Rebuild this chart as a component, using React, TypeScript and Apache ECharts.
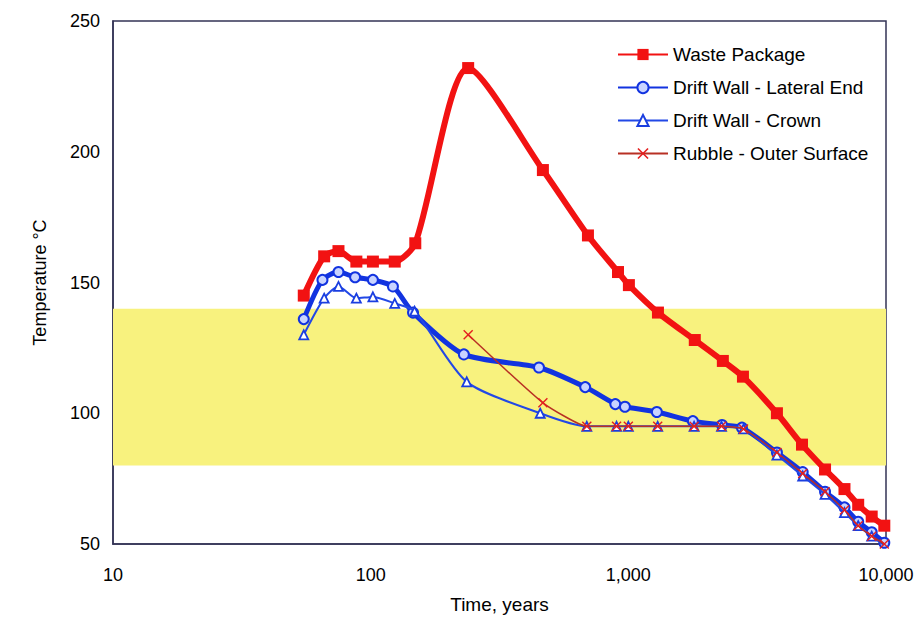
import React, { useEffect, useRef } from "react";
import * as echarts from "echarts";

// Tick / axis values
const xTicks = [10, 100, 1000, 10000];
const yTicks = [50, 100, 150, 200, 250];
const bandLow = 80;
const bandHigh = 140;

// Waste Package
const wasteTimes = [55, 66, 75, 88, 102, 124, 149, 239, 466, 697, 912, 1005, 1303, 1811, 2327, 2785, 3773, 4720, 5800, 6900, 7800, 8800, 9850];
const wasteTemps = [145, 160, 162, 158, 158, 158, 165, 232, 193, 168, 154, 149, 138.5, 128, 120, 114, 100, 88, 78.5, 71, 65, 60.5, 57];

// Drift Wall - Lateral End
const lateralTimes = [55, 65, 75, 87, 102, 122, 146, 230, 450, 680, 890, 970, 1290, 1780, 2310, 2760, 3773, 4750, 5800, 6900, 7800, 8800, 9850];
const lateralTemps = [136, 151, 154, 152, 151, 148.5, 138.5, 122.5, 117.5, 110, 103.5, 102.5, 100.5, 97, 95.5, 94.5, 85, 77.5, 70, 64, 58.5, 54.5, 50.5];

// Drift Wall - Crown
const crownTimes = [55, 66, 75, 88, 102, 124, 148, 236, 455, 690, 900, 1000, 1300, 1800, 2300, 2800, 3773, 4750, 5800, 6900, 7800, 8800, 9850];
const crownTemps = [130, 144, 148.5, 144, 144.5, 142, 139, 112, 100, 95, 95, 95, 95, 95, 95, 94, 84, 76, 69, 62, 57, 53, 49.5];

// Rubble - Outer Surface
const rubbleTimes = [239, 466, 690, 900, 1000, 1300, 1800, 2300, 2800, 3773, 4750, 5800, 6900, 7800, 8800, 9850];
const rubbleTemps = [130, 104, 95, 95, 95, 95, 95, 95, 94, 85, 77, 70, 63, 57, 53, 50];

const seriesNames = ["Waste Package", "Drift Wall - Lateral End", "Drift Wall - Crown", "Rubble - Outer Surface"];

const zip = (xs: number[], ys: number[]) => xs.map((x, i) => [x, ys[i]]);

const crossPath =
  "path://M0,1 L1,0 L5,4 L9,0 L10,1 L6,5 L10,9 L9,10 L5,6 L1,10 L0,9 L4,5 Z";

const FONT = "Liberation Sans, Arial, sans-serif";

export default function App() {
  const ref = useRef<HTMLDivElement>(null);
  useEffect(() => {
    const chart = echarts.init(ref.current!, null, { renderer: "svg" });
    chart.setOption({
      animation: false,
      backgroundColor: "#ffffff",
      textStyle: { fontFamily: FONT, color: "#000" },
      grid: {
        left: 113,
        right: 38,
        top: 21,
        bottom: 74,
        show: true,
        borderColor: "#333355",
        borderWidth: 1.5,
        backgroundColor: "transparent",
      },
      legend: {
        data: seriesNames,
        orient: "vertical",
        left: 612,
        top: 40,
        itemWidth: 50,
        itemHeight: 14,
        itemGap: 14,
        textStyle: { fontFamily: FONT, fontSize: 19, color: "#000" },
      },
      xAxis: {
        type: "log",
        logBase: 10,
        min: xTicks[0],
        max: xTicks[xTicks.length - 1],
        name: "Time, years",
        nameLocation: "middle",
        nameGap: 51,
        nameTextStyle: { fontFamily: FONT, fontSize: 19, color: "#000" },
        axisLine: { show: true, lineStyle: { color: "#333355", width: 1.5 } },
        axisTick: { show: false },
        splitLine: { show: false },
        minorTick: { show: false },
        axisLabel: {
          margin: 22,
          fontFamily: FONT,
          fontSize: 18,
          color: "#000",
          formatter: (v: number) => Math.round(v).toLocaleString("en-US"),
        },
      },
      yAxis: {
        type: "value",
        min: yTicks[0],
        max: yTicks[yTicks.length - 1],
        interval: 50,
        name: "Temperature °C",
        nameLocation: "middle",
        nameGap: 64,
        nameTextStyle: { fontFamily: FONT, fontSize: 18, color: "#000" },
        axisLine: { show: true, lineStyle: { color: "#333355", width: 1.5 } },
        axisTick: { show: false },
        splitLine: { show: false },
        axisLabel: { margin: 13, fontFamily: FONT, fontSize: 18, color: "#000" },
      },
      series: [
        {
          type: "line",
          data: [],
          z: 0,
          silent: true,
          markArea: {
            silent: true,
            itemStyle: { color: "#f8f27e" },
            data: [[{ xAxis: xTicks[0], yAxis: bandLow }, { xAxis: xTicks[xTicks.length - 1], yAxis: bandHigh }]],
          },
        },
        {
          name: seriesNames[0],
          type: "line",
          z: 3,
          smooth: 0.25,
          data: zip(wasteTimes, wasteTemps),
          symbol: "rect",
          symbolSize: 12,
          lineStyle: { color: "#f21212", width: 6 },
          itemStyle: { color: "#f21212" },
        },
        {
          name: seriesNames[1],
          type: "line",
          z: 4,
          smooth: 0.25,
          data: zip(lateralTimes, lateralTemps),
          symbol: "circle",
          symbolSize: 10,
          lineStyle: { color: "#1233e0", width: 5 },
          itemStyle: { color: "#c9d4ff", borderColor: "#1233e0", borderWidth: 2 },
        },
        {
          name: seriesNames[2],
          type: "line",
          z: 5,
          smooth: 0.25,
          data: zip(crownTimes, crownTemps),
          symbol: "triangle",
          symbolSize: 9,
          lineStyle: { color: "#2248e6", width: 2 },
          itemStyle: { color: "#ffffff", borderColor: "#1a3ee0", borderWidth: 1.8 },
        },
        {
          name: seriesNames[3],
          type: "line",
          z: 6,
          smooth: 0.15,
          data: zip(rubbleTimes, rubbleTemps),
          symbol: crossPath,
          symbolSize: 10,
          lineStyle: { color: "#b83024", width: 1.5 },
          itemStyle: { color: "#e41f1f" },
        },
      ],
    });
    return () => chart.dispose();
  }, []);
  return (
    <div
      ref={ref}
      style={{ position: "fixed", left: 0, top: 0, width: 924, height: 619 }}
    />
  );
}
